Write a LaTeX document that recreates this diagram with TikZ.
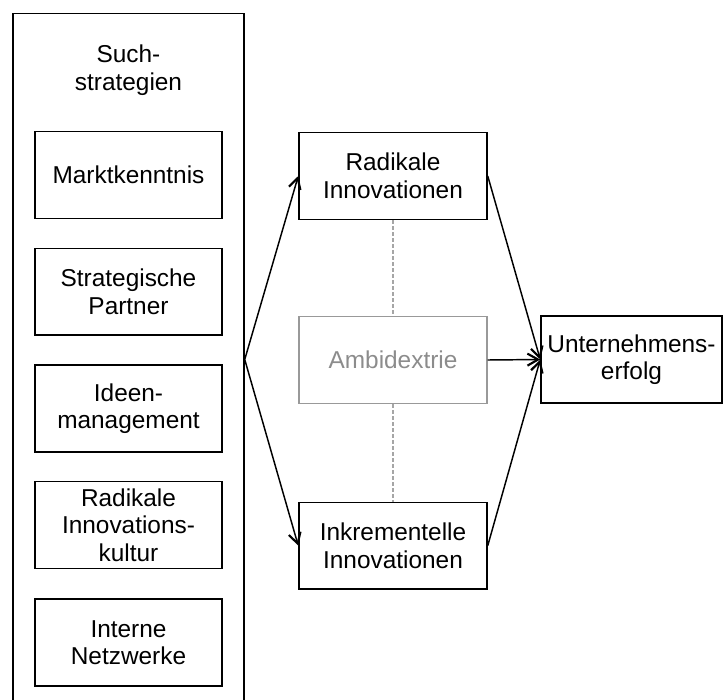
\documentclass[tikz,border=0pt]{standalone}
\usepackage{fontspec}
\setmainfont{Liberation Sans}
\usetikzlibrary{arrows.meta}

\tikzset{
  kasten/.style={draw, line width=1.1pt, align=center, minimum height=65pt,
    inner sep=2pt, font=\fontsize{18.3}{20.6}\selectfont},
  grau/.style={kasten, draw=black!40, text=black!45},
  pfeil/.style={line width=1.1pt, -{Straight Barb[length=8pt, width=9pt, line width=1.6pt]}},
  verbindung/.style={draw=black!35, line width=0.9pt, dash pattern=on 3pt off 1.5pt}
}

\begin{document}
\begin{tikzpicture}[x=0.75pt, y=-0.75pt]
  \useasboundingbox (0,0) rectangle (725,700);

  % --- Suchstrategien ---
  \node[kasten, minimum width=173.25pt, minimum height=519pt] (such) at (128.5,359.5) {};
  \node[font=\fontsize{18.3}{20.6}\selectfont, align=center] (suchtitel) at (128.5,70) {Such-\\strategien};

  \foreach \name/\y/\txt in {markt/175/Marktkenntnis,
                             partner/291.7/{Strategische\\Partner},
                             ideen/408.5/{Ideen-\\management},
                             kultur/525/{Radikale\\Innovations-\\kultur},
                             netz/642.5/{Interne\\Netzwerke}} {
    \node[kasten, minimum width=140.25pt] (\name) at (128.5,\y) {\txt};
  }

  % --- Innovationen ---
  \node[kasten, minimum width=141pt] (radikal) at (393,176) {Radikale\\Innovationen};
  \node[grau, minimum width=141pt] (ambi) at (393,360) {Ambidextrie};
  \node[kasten, minimum width=141pt] (inkrement) at (393,545.7) {Inkrementelle\\Innovationen};

  % --- Erfolg ---
  \node[kasten, minimum width=135.75pt] (erfolg) at (631.5,359.5) {Unternehmens-\\erfolg};

  % --- Pfeile ---
  \draw[pfeil] (such.east) -- (radikal.west);
  \draw[pfeil] (such.east) -- (inkrement.west);
  \draw[pfeil] (radikal.east) -- (erfolg.west);
  \draw[pfeil] (ambi.east) -- (erfolg.west);
  \draw[pfeil] (inkrement.east) -- (erfolg.west);

  \draw[verbindung] (radikal.south) -- (ambi.north);
  \draw[verbindung] (ambi.south) -- (inkrement.north);

\end{tikzpicture}
\end{document}
